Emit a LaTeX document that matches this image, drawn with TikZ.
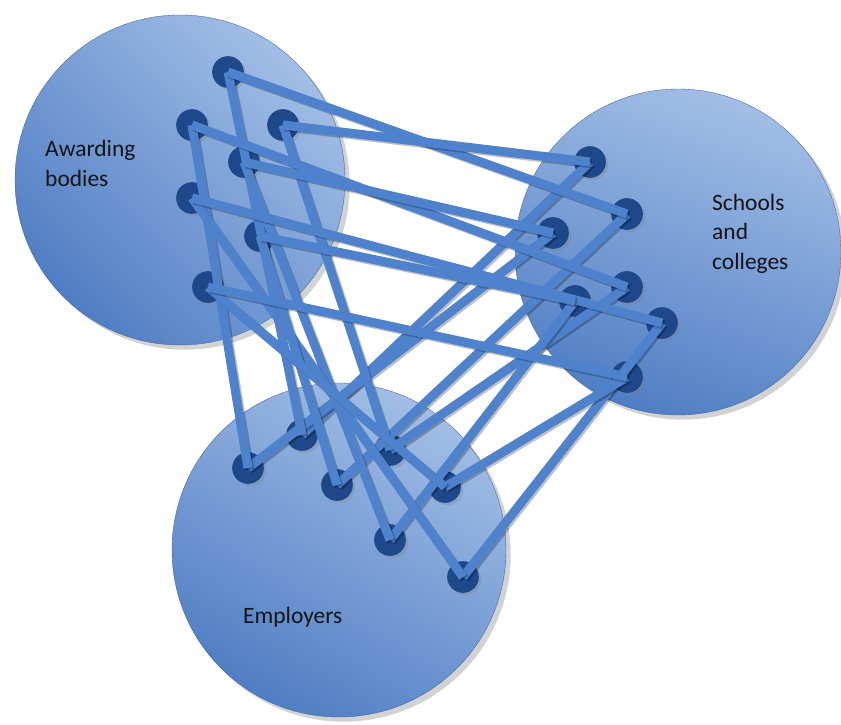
\documentclass[tikz,border=0pt]{standalone}
\usepackage{fontspec}
\setmainfont{Carlito}
\usetikzlibrary{shadows}
\definecolor{disclight}{RGB}{162,190,230}
\definecolor{discdark}{RGB}{80,126,196}
\definecolor{linkblue}{RGB}{78,130,205}
\definecolor{dotblue}{RGB}{30,72,138}
\definecolor{textgrey}{RGB}{20,20,25}
\tikzstyle{disc}=[top color=disclight,bottom color=discdark,draw=discdark!80!black,line width=0.3pt,drop shadow={opacity=0.35,shadow xshift=4pt,shadow yshift=-4pt}]
\tikzstyle{dot}=[circle,fill=dotblue,minimum size=0.95cm,inner sep=0pt,drop shadow={opacity=0.3,shadow xshift=2pt,shadow yshift=-2pt}]
\tikzstyle{link}=[draw=linkblue,line width=2.7mm,preaction={draw=black,opacity=0.25,line width=2.7mm,transform canvas={xshift=1.5pt,yshift=-1.5pt}}]
\tikzstyle{grouptext}=[anchor=base west,align=left,inner sep=0pt,text=textgrey,font=\fontsize{20}{25}\selectfont]

\begin{document}
\begin{tikzpicture}[x=0.03cm,y=-0.03cm]
    \fill[white] (0,0) rectangle (841,724);
    \useasboundingbox (0,0) rectangle (841,724);

    % the three groups
    \path[disc,shading angle=-45] (180,180) circle (165);
    \path[disc,shading angle=-20] (678,252) circle (163);
    \path[disc,shading angle=-30] (339,550) circle (167);

    % base anchor sits on the last line
    \node[grouptext] (awarding) at (45,186) {Awarding\\bodies};
    \node[grouptext] (schools) at (712,269) {Schools\\and\\colleges};
    \node[grouptext] (employers) at (243,623) {Employers};

    % awarding bodies
    \node[dot] (a1) at (228,72) {};
    \node[dot] (a2) at (192,125) {};
    \node[dot] (a3) at (283,125) {};
    \node[dot] (a4) at (244,162) {};
    \node[dot] (a5) at (192,198) {};
    \node[dot] (a6) at (260,236) {};
    \node[dot] (a7) at (208,287) {};
    % schools and colleges
    \node[dot] (s1) at (590,162) {};
    \node[dot] (s2) at (627,214) {};
    \node[dot] (s3) at (553,233) {};
    \node[dot] (s4) at (627,287) {};
    \node[dot] (s5) at (575,301) {};
    \node[dot] (s6) at (662,323) {};
    \node[dot] (s7) at (627,377) {};
    % employers
    \node[dot] (e1) at (248,468) {};
    \node[dot] (e2) at (302,435) {};
    \node[dot] (e3) at (337,485) {};
    \node[dot] (e4) at (390,450) {};
    \node[dot] (e5) at (445,487) {};
    \node[dot] (e6) at (390,540) {};
    \node[dot] (e7) at (463,577) {};

    \draw[link] (s1.center) -- (e2.center);
    \draw[link] (s2.center) -- (e3.center);
    \draw[link] (s3.center) -- (e1.center);
    \draw[link] (s4.center) -- (e4.center);
    \draw[link] (s5.center) -- (e6.center);
    \draw[link] (s6.center) -- (e7.center);
    \draw[link] (s7.center) -- (e5.center);

    \draw[link] (a1.center) -- (e2.center);
    \draw[link] (a2.center) -- (e1.center);
    \draw[link] (a3.center) -- (e4.center);
    \draw[link] (a4.center) -- (e6.center);
    \draw[link] (a5.center) -- (e7.center);
    \draw[link] (a6.center) -- (e3.center);
    \draw[link] (a7.center) -- (e5.center);

    \draw[link] (a1.center) -- (s2.center);
    \draw[link] (a2.center) -- (s4.center);
    \draw[link] (a3.center) -- (s1.center);
    \draw[link] (a4.center) -- (s3.center);
    \draw[link] (a5.center) -- (s6.center);
    \draw[link] (a6.center) -- (s5.center);
    \draw[link] (a7.center) -- (s7.center);
\end{tikzpicture}
\end{document}
